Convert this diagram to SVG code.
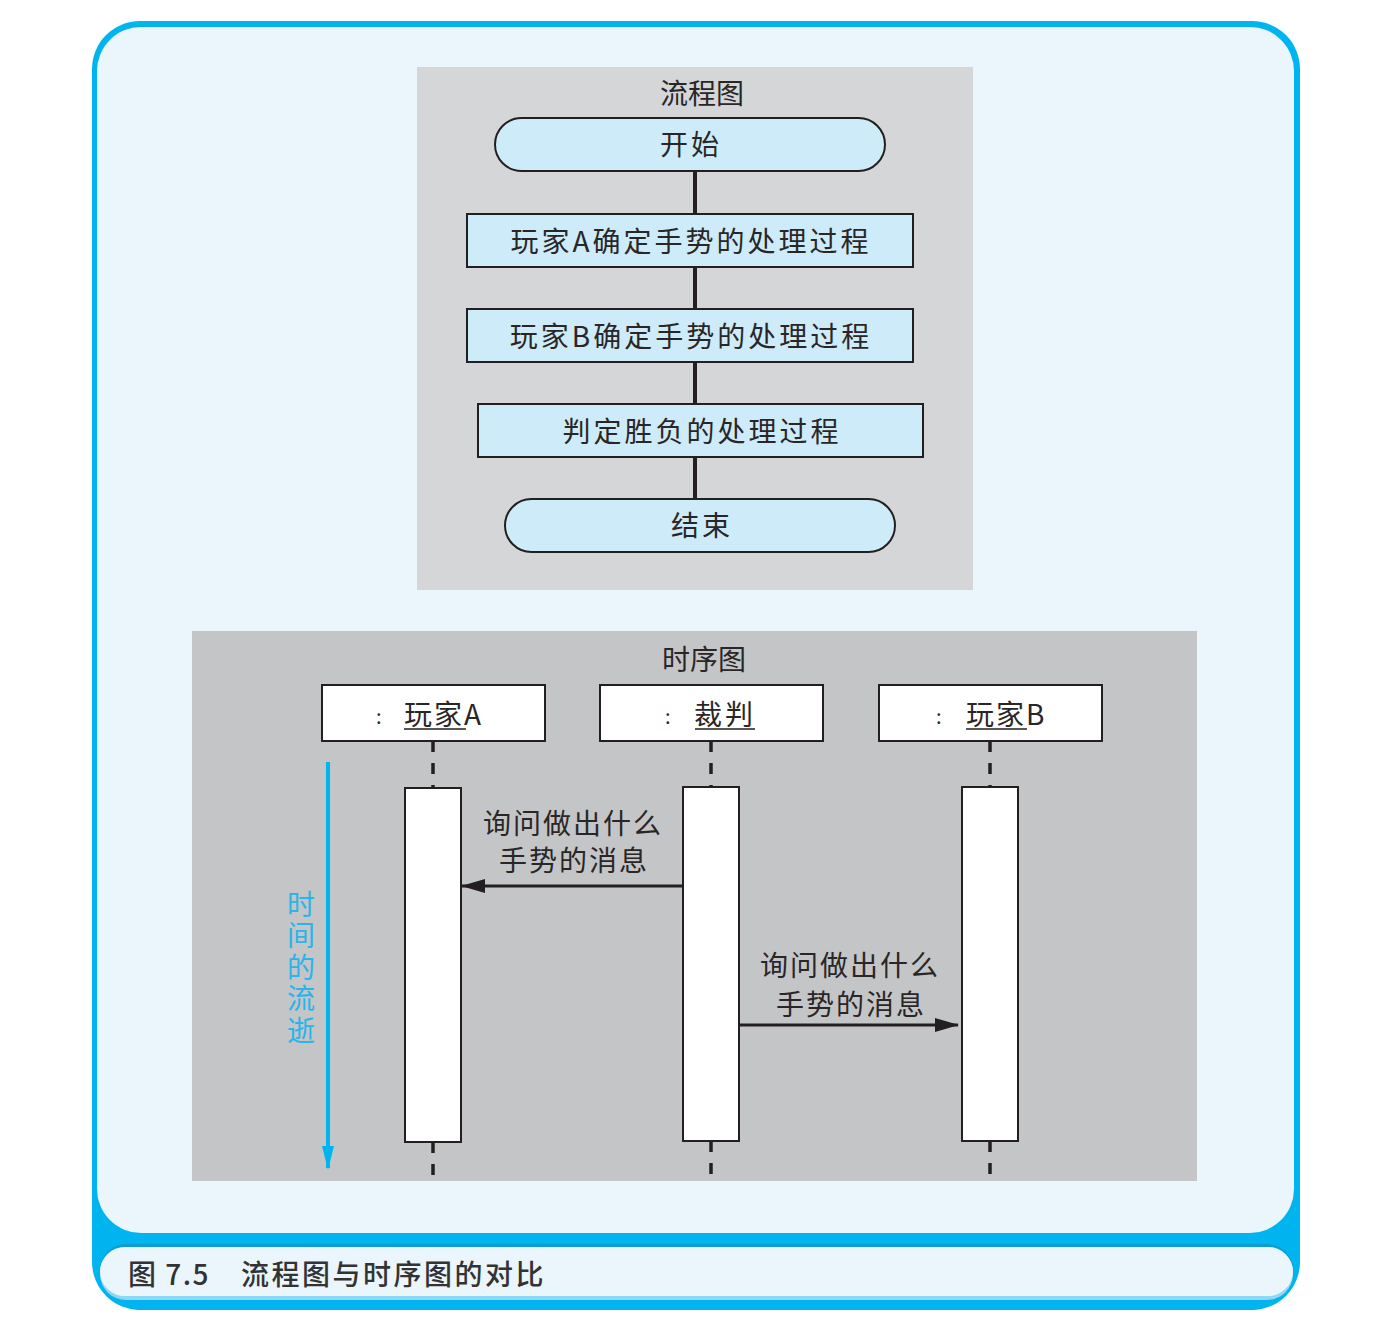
<svg xmlns="http://www.w3.org/2000/svg" width="1380" height="1338" viewBox="0 0 1380 1338">
  <defs>
    <style>
      text { font-family: "Noto Sans CJK SC", "Noto Sans", sans-serif; fill: #2a2627; font-size: 28px; dominant-baseline: central; }
      .mid { text-anchor: middle; }
      .sp { letter-spacing: 3px; }
      .term { fill: #cdebf8; stroke: #231f20; stroke-width: 2; }
      .proc { fill: #cdebf8; stroke: #231f20; stroke-width: 2; }
      .obj { fill: #ffffff; stroke: #231f20; stroke-width: 2; }
      .act { fill: #ffffff; stroke: #231f20; stroke-width: 2; }
      .flow { stroke: #231f20; stroke-width: 4; fill: none; }
      .life { stroke: #231f20; stroke-width: 3.5; stroke-dasharray: 11 11; fill: none; }
      .msg { stroke: #231f20; stroke-width: 3; fill: none; }
      .ul { stroke: #231f20; stroke-width: 1.5; }
      .cap { font-size: 28px; font-weight: 500; fill: #333333; }
      .time { fill: #2ab4e8; writing-mode: vertical-rl; letter-spacing: 3.5px; }
    </style>
    <marker id="head" viewBox="0 0 24 14" refX="23" refY="7" markerWidth="24" markerHeight="14" markerUnits="userSpaceOnUse" orient="auto">
      <path d="M0,0 L24,7 L0,14 Z" fill="#231f20"/>
    </marker>
    <marker id="timeHead" viewBox="0 0 24 12" refX="22" refY="6" markerWidth="24" markerHeight="12" markerUnits="userSpaceOnUse" orient="auto">
      <path d="M0,0 L24,6 L0,12 Z" fill="#00b5ef"/>
    </marker>
  </defs>

  <!-- outer frame -->
  <g id="frame">
    <rect x="92" y="21" width="1208" height="1289" rx="48" fill="#00b5ef"/>
    <rect x="97" y="27" width="1197" height="1206" rx="44" fill="#eaf5fc"/>
    <rect x="100" y="1244" width="1193" height="56" rx="26" fill="#0b9dd4"/>
    <rect x="100" y="1247" width="1193" height="53" rx="26" fill="#8ed8f5"/>
    <rect x="100" y="1247" width="1193" height="49" rx="25" fill="#eaf5fc"/>
    <text class="cap" x="128" y="1273" style="letter-spacing:1.5px">图 7.5</text>
    <text class="cap" x="241" y="1273" style="letter-spacing:2.5px">流程图与时序图的对比</text>
  </g>

  <!-- flowchart panel -->
  <g id="flowchart-panel">
    <rect x="417" y="67" width="556" height="523" fill="#d5d6d8"/>
    <text class="mid" x="702" y="92">流程图</text>
  </g>

  <g id="flow-connectors">
    <line class="flow" x1="695" y1="171" x2="695" y2="214"/>
    <line class="flow" x1="695" y1="267" x2="695" y2="309"/>
    <line class="flow" x1="695" y1="362" x2="695" y2="404"/>
    <line class="flow" x1="695" y1="457" x2="695" y2="499"/>
  </g>

  <g id="start">
    <rect class="term" x="495" y="118" width="390" height="53" rx="26.5"/>
    <text class="mid sp" x="691" y="143">开始</text>
  </g>
  <g id="playerA-step">
    <rect class="proc" x="467" y="214" width="446" height="53"/>
    <text class="mid sp" x="691" y="240">玩家A确定手势的处理过程</text>
  </g>
  <g id="playerB-step">
    <rect class="proc" x="467" y="309" width="446" height="53"/>
    <text class="mid sp" x="691" y="335">玩家B确定手势的处理过程</text>
  </g>
  <g id="judge-step">
    <rect class="proc" x="478" y="404" width="445" height="53"/>
    <text class="mid sp" x="702" y="430">判定胜负的处理过程</text>
  </g>
  <g id="end">
    <rect class="term" x="505" y="499" width="390" height="53" rx="26.5"/>
    <text class="mid sp" x="702" y="524">结束</text>
  </g>

  <!-- sequence panel -->
  <g id="sequence-panel">
    <rect x="192" y="631" width="1005" height="550" fill="#c4c5c7"/>
    <text class="mid" x="704" y="658">时序图</text>
  </g>

  <g id="lifelines">
    <line class="life" x1="433" y1="741" x2="433" y2="788"/>
    <line class="life" x1="433" y1="1142" x2="433" y2="1175"/>
    <line class="life" x1="711" y1="741" x2="711" y2="788"/>
    <line class="life" x1="711" y1="1141" x2="711" y2="1175"/>
    <line class="life" x1="990" y1="741" x2="990" y2="788"/>
    <line class="life" x1="990" y1="1141" x2="990" y2="1175"/>
  </g>

  <g id="obj-playerA">
    <rect class="obj" x="322" y="685" width="223" height="56"/>
    <text x="376" y="715" style="font-size:20px">:</text>
    <text x="404" y="713" style="letter-spacing:2px">玩家A</text>
    <line class="ul" x1="404" y1="729" x2="466" y2="729"/>
  </g>
  <g id="obj-judge">
    <rect class="obj" x="600" y="685" width="223" height="56"/>
    <text x="665" y="715" style="font-size:20px">:</text>
    <text class="sp" x="694" y="713">裁判</text>
    <line class="ul" x1="695" y1="729" x2="755" y2="729"/>
  </g>
  <g id="obj-playerB">
    <rect class="obj" x="879" y="685" width="223" height="56"/>
    <text x="936" y="715" style="font-size:20px">:</text>
    <text x="966" y="713" style="letter-spacing:2px">玩家B</text>
    <line class="ul" x1="966" y1="729" x2="1027" y2="729"/>
  </g>

  <g id="act-playerA">
    <rect class="act" x="405" y="788" width="56" height="354"/>
  </g>
  <g id="act-judge">
    <rect class="act" x="683" y="787" width="56" height="354"/>
  </g>
  <g id="act-playerB">
    <rect class="act" x="962" y="787" width="56" height="354"/>
  </g>

  <g id="messages">
    <line class="msg" x1="683" y1="886" x2="462" y2="886" marker-end="url(#head)"/>
    <text class="mid" x="573" y="822" style="letter-spacing:2px">询问做出什么</text>
    <text class="mid" x="574" y="859" style="letter-spacing:2px">手势的消息</text>
    <line class="msg" x1="739" y1="1025" x2="958" y2="1025" marker-end="url(#head)"/>
    <text class="mid" x="850" y="964" style="letter-spacing:2px">询问做出什么</text>
    <text class="mid" x="851" y="1003" style="letter-spacing:2px">手势的消息</text>
  </g>

  <!-- time axis -->
  <g id="time-axis">
    <line x1="328" y1="762" x2="328" y2="1168" stroke="#00b5ef" stroke-width="4" marker-end="url(#timeHead)"/>
    <text class="time" x="301" y="890">时间的流逝</text>
  </g>
</svg>
